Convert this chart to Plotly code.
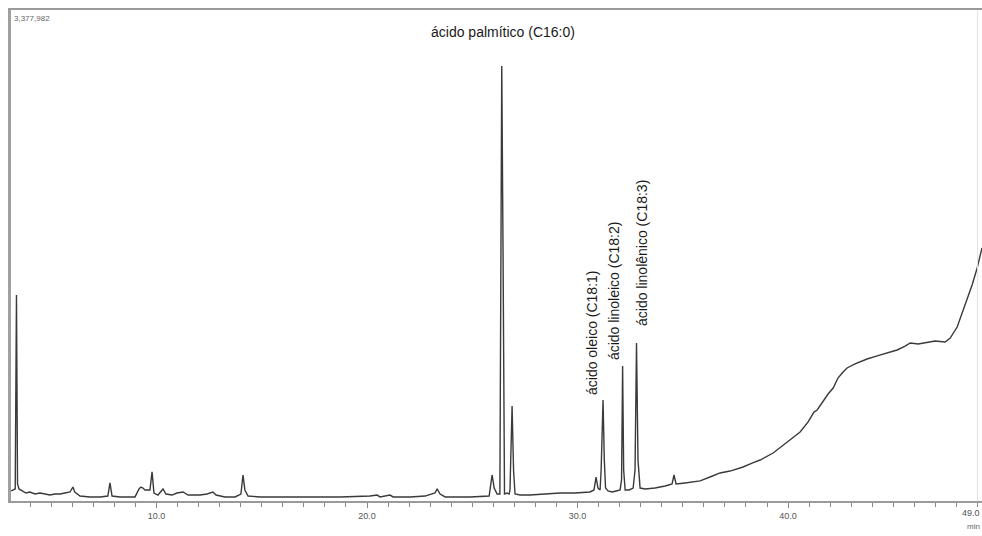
import plotly.graph_objects as go

# Chromatogram trace (retention time in min, detector counts)
retention_time_min = [
    3.09, 3.23, 3.29, 3.35, 3.40, 3.47, 3.61, 3.80, 3.99, 4.23, 4.47, 4.70, 4.94, 5.18, 5.42,
    5.65, 5.89, 6.03, 6.12, 6.37, 6.84, 7.32, 7.69, 7.79, 7.89, 8.27, 8.98, 9.17, 9.26, 9.36,
    9.45, 9.69, 9.79, 9.88, 10.07, 10.31, 10.45, 10.74, 10.97, 11.26, 11.50, 12.07, 12.40, 12.68, 12.83,
    13.25, 13.73, 14.01, 14.11, 14.20, 14.35, 14.92, 16.82, 18.72, 20.14, 20.48, 20.62, 21.09, 21.24, 22.04,
    22.76, 23.23, 23.33, 23.47, 23.71, 24.89, 25.80, 25.89, 25.94, 26.04, 26.18, 26.31, 26.36, 26.40, 26.46,
    26.53, 26.65, 26.75, 26.79, 26.84, 26.89, 26.96, 27.03, 27.27, 27.74, 28.46, 29.17, 29.88, 30.59, 30.78,
    30.88, 30.97, 31.07, 31.12, 31.16, 31.21, 31.27, 31.33, 31.45, 31.64, 31.83, 32.02, 32.09, 32.14, 32.19,
    32.26, 32.45, 32.64, 32.73, 32.80, 32.87, 32.97, 33.21, 33.68, 34.16, 34.49, 34.58, 34.68, 35.10, 35.49,
    35.82, 36.29, 36.77, 37.24, 37.86, 38.29, 38.67, 39.29, 39.71, 40.09, 40.57, 40.95, 41.23, 41.38, 41.61,
    41.90, 42.14, 42.37, 42.61, 42.80, 43.18, 43.75, 44.23, 44.70, 45.18, 45.56, 45.80, 46.18, 46.61, 46.98,
    47.46, 47.70, 48.03, 48.27, 48.50, 48.74, 48.98, 49.21,
]
signal_counts = [
    69000, 76000, 83000, 1417000, 117000, 83000, 69000, 55000, 62000, 48000, 55000, 48000, 41000, 48000, 48000,
    55000, 62000, 96000, 62000, 34000, 28000, 28000, 34000, 124000, 34000, 28000, 28000, 83000, 96000, 89000,
    76000, 76000, 200000, 55000, 41000, 83000, 48000, 41000, 55000, 62000, 41000, 41000, 48000, 62000, 41000,
    28000, 28000, 48000, 179000, 76000, 34000, 28000, 28000, 28000, 34000, 41000, 28000, 41000, 28000, 28000,
    34000, 55000, 83000, 48000, 28000, 28000, 34000, 131000, 179000, 89000, 48000, 48000, 1727000, 2993000, 1727000,
    48000, 55000, 48000, 76000, 420000, 654000, 213000, 48000, 41000, 41000, 48000, 55000, 55000, 62000, 76000,
    165000, 89000, 76000, 213000, 488000, 695000, 282000, 89000, 69000, 62000, 69000, 76000, 145000, 929000, 213000,
    76000, 76000, 89000, 213000, 1087000, 282000, 89000, 83000, 89000, 103000, 117000, 179000, 117000, 124000, 131000,
    138000, 165000, 193000, 206000, 234000, 261000, 282000, 330000, 378000, 420000, 475000, 544000, 612000, 626000, 674000,
    736000, 777000, 846000, 888000, 915000, 943000, 977000, 998000, 1018000, 1039000, 1066000, 1087000, 1080000, 1094000, 1101000,
    1094000, 1121000, 1197000, 1293000, 1383000, 1486000, 1603000, 1741000,
]

max_signal = 3377982
max_label = "3,377,982"

peak_labels = ["ácido palmítico (C16:0)", "ácido oleico (C18:1)",
               "ácido linoleico (C18:2)", "ácido linolênico (C18:3)"]
peak_label_x = [26.44, 30.66, 31.71, 33.06]
peak_label_y = [3227000, 715000, 956000, 1190000]

tick_values = [10, 20, 30, 40]
tick_labels = ["10.0", "20.0", "30.0", "40.0"]
end_label = "49.0"
unit_label = "min"

FONT = "Liberation Sans, Arial, sans-serif"

fig = go.Figure()
fig.add_trace(go.Scatter(
    x=retention_time_min, y=signal_counts, mode="lines",
    line=dict(color="#3a3a3a", width=1.4), hoverinfo="skip", showlegend=False,
))

fig.add_annotation(x=peak_label_x[0], y=peak_label_y[0], xref="x", yref="y",
                   text=peak_labels[0], showarrow=False, xanchor="center", yanchor="middle",
                   font=dict(family=FONT, size=14, color="#1a1a1a"))
for lab, xv, yv in zip(peak_labels[1:], peak_label_x[1:], peak_label_y[1:]):
    fig.add_annotation(x=xv, y=yv, xref="x", yref="y", text=lab, textangle=-90,
                       showarrow=False, xanchor="center", yanchor="bottom",
                       font=dict(family=FONT, size=14, color="#1a1a1a"))

fig.add_annotation(x=0, y=1, xref="paper", yref="paper", text=max_label, showarrow=False,
                   xanchor="left", yanchor="top", xshift=1, yshift=-2,
                   font=dict(family=FONT, size=8, color="#666666"))
fig.add_annotation(x=1, y=0, xref="paper", yref="paper", text=end_label, showarrow=False,
                   xanchor="right", yanchor="top", yshift=-5,
                   font=dict(family=FONT, size=9, color="#555555"))
fig.add_annotation(x=1, y=0, xref="paper", yref="paper", text=unit_label, showarrow=False,
                   xanchor="right", yanchor="top", yshift=-19,
                   font=dict(family=FONT, size=8, color="#666666"))

fig.add_shape(type="line", x0=49.0, x1=49.0, y0=0, y1=1, xref="x", yref="paper",
              line=dict(color="#e2e2e2", width=1))

fig.update_layout(
    width=982, height=536,
    margin=dict(l=11, r=0, t=10, b=35),
    paper_bgcolor="white", plot_bgcolor="white",
    xaxis=dict(range=[3.09, 49.21], tickvals=tick_values, ticktext=tick_labels,
               ticks="outside", ticklen=5, tickcolor="#888888",
               minor=dict(ticks="outside", dtick=1, tick0=0, ticklen=4, tickcolor="#888888"),
               showline=True, linecolor="#9a9a9a", linewidth=1.5, mirror=True,
               showgrid=False, zeroline=False, automargin=False,
               tickfont=dict(family=FONT, size=9, color="#555555")),
    yaxis=dict(range=[0, max_signal], showticklabels=False, ticks="",
               showline=True, linecolor="#a0a0a0", linewidth=2.5,
               showgrid=False, zeroline=False, automargin=False),
)

fig.write_html("out.html", config={"displayModeBar": False},
               post_script="document.body.style.margin='0';document.body.style.overflow='hidden';")
